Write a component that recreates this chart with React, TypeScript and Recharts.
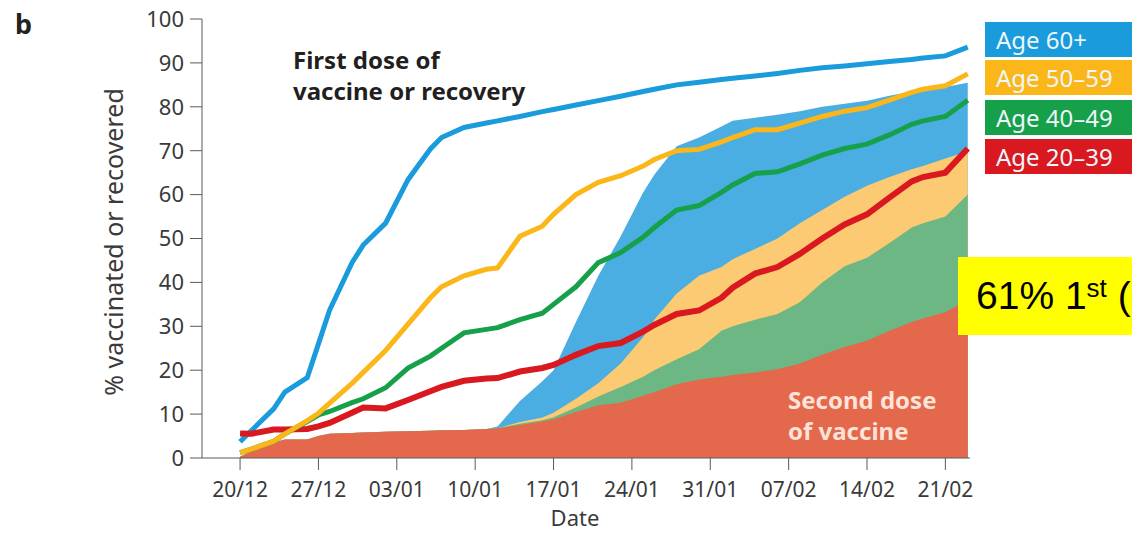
import { ComposedChart, Area, Line, XAxis, YAxis } from 'recharts'

// day 0 = 20 Dec; one entry per sampled day
const days = [0, 1, 3, 4, 6, 7, 8, 10, 11, 13, 15, 17, 18, 20, 22, 23, 25, 27, 28, 30, 32, 34, 36, 37, 39, 41, 43, 44, 46, 48, 50, 52, 54, 56, 58, 60, 61, 63, 65]

const tickDays = [0, 7, 14, 21, 28, 35, 42, 49, 56, 63]
const tickLabels = ['20/12', '27/12', '03/01', '10/01', '17/01', '24/01', '31/01', '07/02', '14/02', '21/02']
const yTicks = [0, 10, 20, 30, 40, 50, 60, 70, 80, 90, 100]

const ageGroups = ['Age 60+', 'Age 50–59', 'Age 40–49', 'Age 20–39']

// first dose of vaccine or recovery (%)
const first60 = [3.7, 6.2, 11.2, 15, 18.3, 26, 33.7, 44.5, 48.5, 53.5, 63.4, 70.4, 73, 75.3, 76.3, 76.8, 77.8, 78.9, 79.4, 80.4, 81.4, 82.4, 83.5, 84, 85, 85.6, 86.2, 86.5, 87, 87.6, 88.3, 88.9, 89.3, 89.8, 90.3, 90.8, 91.1, 91.6, 93.6]
const first50 = [1.2, 2, 3.8, 5.5, 8.5, 10.2, 12.5, 17, 19.5, 24.5, 30.5, 36.5, 39, 41.5, 43, 43.3, 50.5, 52.8, 55.5, 60, 62.8, 64.3, 66.5, 68, 70, 70.3, 72, 73, 74.8, 74.8, 76.3, 77.8, 79, 79.8, 81.5, 83.3, 84, 84.8, 87.5]
const first40 = [1.2, 2, 3.8, 5.5, 8.3, 9.8, 10.6, 12.6, 13.5, 16, 20.5, 23.2, 25, 28.5, 29.3, 29.7, 31.5, 33, 35, 39, 44.5, 46.8, 50.3, 52.5, 56.5, 57.5, 60.5, 62.2, 64.8, 65.2, 67, 69, 70.5, 71.5, 73.6, 76, 76.8, 77.8, 81.5]
const first20 = [5.6, 5.5, 6.5, 6.5, 6.6, 7.2, 8, 10.3, 11.5, 11.3, 13.2, 15.2, 16.2, 17.6, 18.1, 18.2, 19.7, 20.5, 21.2, 23.5, 25.5, 26.2, 28.8, 30.3, 32.8, 33.6, 36.5, 38.8, 42, 43.5, 46.5, 50, 53.2, 55.5, 59.3, 63, 64, 65, 70.5]

// second dose of vaccine (%)
const second60 = [0.3, 1.5, 3.5, 4.2, 4.2, 5, 5.5, 5.7, 5.8, 6, 6.1, 6.2, 6.3, 6.4, 6.6, 7.2, 13, 17.5, 20, 31, 41.5, 50.5, 60.5, 64.5, 71, 73, 75.5, 76.8, 77.5, 78.2, 79, 80, 80.7, 81.4, 82.5, 83.5, 84, 84.5, 85.5]
const second50 = [0.3, 1.5, 3.5, 4.2, 4.2, 5, 5.5, 5.7, 5.8, 6, 6.1, 6.2, 6.3, 6.4, 6.6, 6.8, 8.2, 9.2, 10.3, 13.5, 17, 21.5, 27.5, 31.5, 37.5, 41.5, 43.5, 45.3, 47.6, 50, 53.5, 56.5, 59.5, 62, 64, 65.8, 66.5, 68.2, 69.8]
const second40 = [0.3, 1.5, 3.5, 4.2, 4.2, 5, 5.5, 5.7, 5.8, 6, 6.1, 6.2, 6.3, 6.4, 6.6, 6.8, 7.8, 8.6, 9.3, 11.5, 14, 16.2, 18.5, 20, 22.5, 24.8, 29, 30, 31.5, 32.8, 35.5, 40, 43.7, 45.6, 49, 52.5, 53.5, 55, 60]
const second20 = [0.3, 1.5, 3.5, 4.2, 4.2, 5, 5.5, 5.7, 5.8, 6, 6.1, 6.2, 6.3, 6.4, 6.6, 6.8, 7.5, 8.3, 8.8, 10.5, 12, 12.6, 14.2, 15, 16.8, 17.9, 18.5, 18.9, 19.5, 20.2, 21.5, 23.5, 25.3, 26.7, 29, 31, 31.8, 33.2, 36]

const lineColors = ['#1a9bdc', '#fbb619', '#16a04a', '#d9181f']
const areaColors = ['#4baee3', '#fcca72', '#6db784', '#e4684b']

const data = days.map((day, i) => ({
  day,
  first60: first60[i],
  first50: first50[i],
  first40: first40[i],
  first20: first20[i],
  second60: second60[i],
  second50: second50[i],
  second40: second40[i],
  second20: second20[i],
}))

const font = '"Noto Sans", sans-serif'
const axisGrey = '#5a5a5a'
const textGrey = '#3a3a3a'

const boldNote = { position: 'absolute' as const, fontSize: 24, fontWeight: 700, lineHeight: '26px', whiteSpace: 'nowrap' as const }

export default function App() {
  return (
    <div style={{ position: 'fixed', left: 0, top: 0, width: 1132, height: 534, background: '#fff', overflow: 'hidden', fontFamily: font }}>
      <ComposedChart width={1132} height={534} data={data} margin={{ top: 19, right: 162, bottom: 16, left: 140 }}>
        <XAxis
          dataKey="day"
          type="number"
          domain={[-3.4, 65.2]}
          ticks={tickDays}
          tickFormatter={(d: number) => tickLabels[tickDays.indexOf(d)]}
          height={60}
          tickSize={12}
          tickMargin={12}
          stroke={axisGrey}
          tick={{ fill: textGrey, fontSize: 21, fontFamily: font }}
        />
        <YAxis
          type="number"
          domain={[0, 100]}
          ticks={yTicks}
          width={62}
          tickSize={12}
          tickMargin={6}
          stroke={axisGrey}
          tick={{ fill: textGrey, fontSize: 22, fontFamily: font }}
        />
        <Area dataKey="second60" type="linear" fill={areaColors[0]} fillOpacity={1} stroke="none" isAnimationActive={false} />
        <Area dataKey="second50" type="linear" fill={areaColors[1]} fillOpacity={1} stroke="none" isAnimationActive={false} />
        <Area dataKey="second40" type="linear" fill={areaColors[2]} fillOpacity={1} stroke="none" isAnimationActive={false} />
        <Area dataKey="second20" type="linear" fill={areaColors[3]} fillOpacity={1} stroke="none" isAnimationActive={false} />
        <Line dataKey="first60" type="linear" stroke={lineColors[0]} strokeWidth={5} dot={false} isAnimationActive={false} />
        <Line dataKey="first20" type="linear" stroke={lineColors[3]} strokeWidth={6} dot={false} isAnimationActive={false} />
        <Line dataKey="first40" type="linear" stroke={lineColors[2]} strokeWidth={5} dot={false} isAnimationActive={false} />
        <Line dataKey="first50" type="linear" stroke={lineColors[1]} strokeWidth={5} dot={false} isAnimationActive={false} />
      </ComposedChart>

      <div style={{ position: 'absolute', left: 15, top: 5, fontSize: 27, fontWeight: 700, color: '#222' }}>b</div>

      <div style={{ position: 'absolute', left: 113, top: 242, transform: 'translate(-50%, -50%) rotate(-90deg)', whiteSpace: 'nowrap', fontSize: 25, lineHeight: 1, color: textGrey }}>
        % vaccinated or recovered
      </div>
      <div style={{ position: 'absolute', left: 575, top: 517, transform: 'translate(-50%, -50%)', fontSize: 22, lineHeight: 1, color: textGrey }}>Date</div>

      <div style={{ ...boldNote, left: 293, top: 47, color: '#231f20' }}>First dose of</div>
      <div style={{ ...boldNote, left: 293, top: 78, color: '#231f20' }}>vaccine or recovery</div>
      <div style={{ ...boldNote, left: 788, top: 387, color: '#fde3d8' }}>Second dose</div>
      <div style={{ ...boldNote, left: 788, top: 418, color: '#fde3d8' }}>of vaccine</div>

      {ageGroups.map((name, i) => (
        <div
          key={name}
          style={{
            position: 'absolute',
            left: 985,
            top: [22, 60, 100, 139][i],
            width: 147,
            height: 35,
            background: lineColors[i],
            color: '#eef6fb',
            fontSize: 24,
            lineHeight: '35px',
            paddingLeft: 11,
            boxSizing: 'border-box',
            whiteSpace: 'nowrap',
          }}
        >
          {name}
        </div>
      ))}

      <div
        style={{
          position: 'absolute',
          left: 958,
          top: 257,
          width: 174,
          height: 78,
          background: '#ffff00',
          color: '#000',
          fontFamily: '"Liberation Sans", Arial, sans-serif',
          fontSize: 39,
          lineHeight: '78px',
          paddingLeft: 18,
          boxSizing: 'border-box',
          whiteSpace: 'nowrap',
          overflow: 'hidden',
        }}
      >
        61% 1<sup style={{ fontSize: 26, verticalAlign: 'top', lineHeight: '62px' }}>st</sup> (dose)
      </div>
    </div>
  )
}
